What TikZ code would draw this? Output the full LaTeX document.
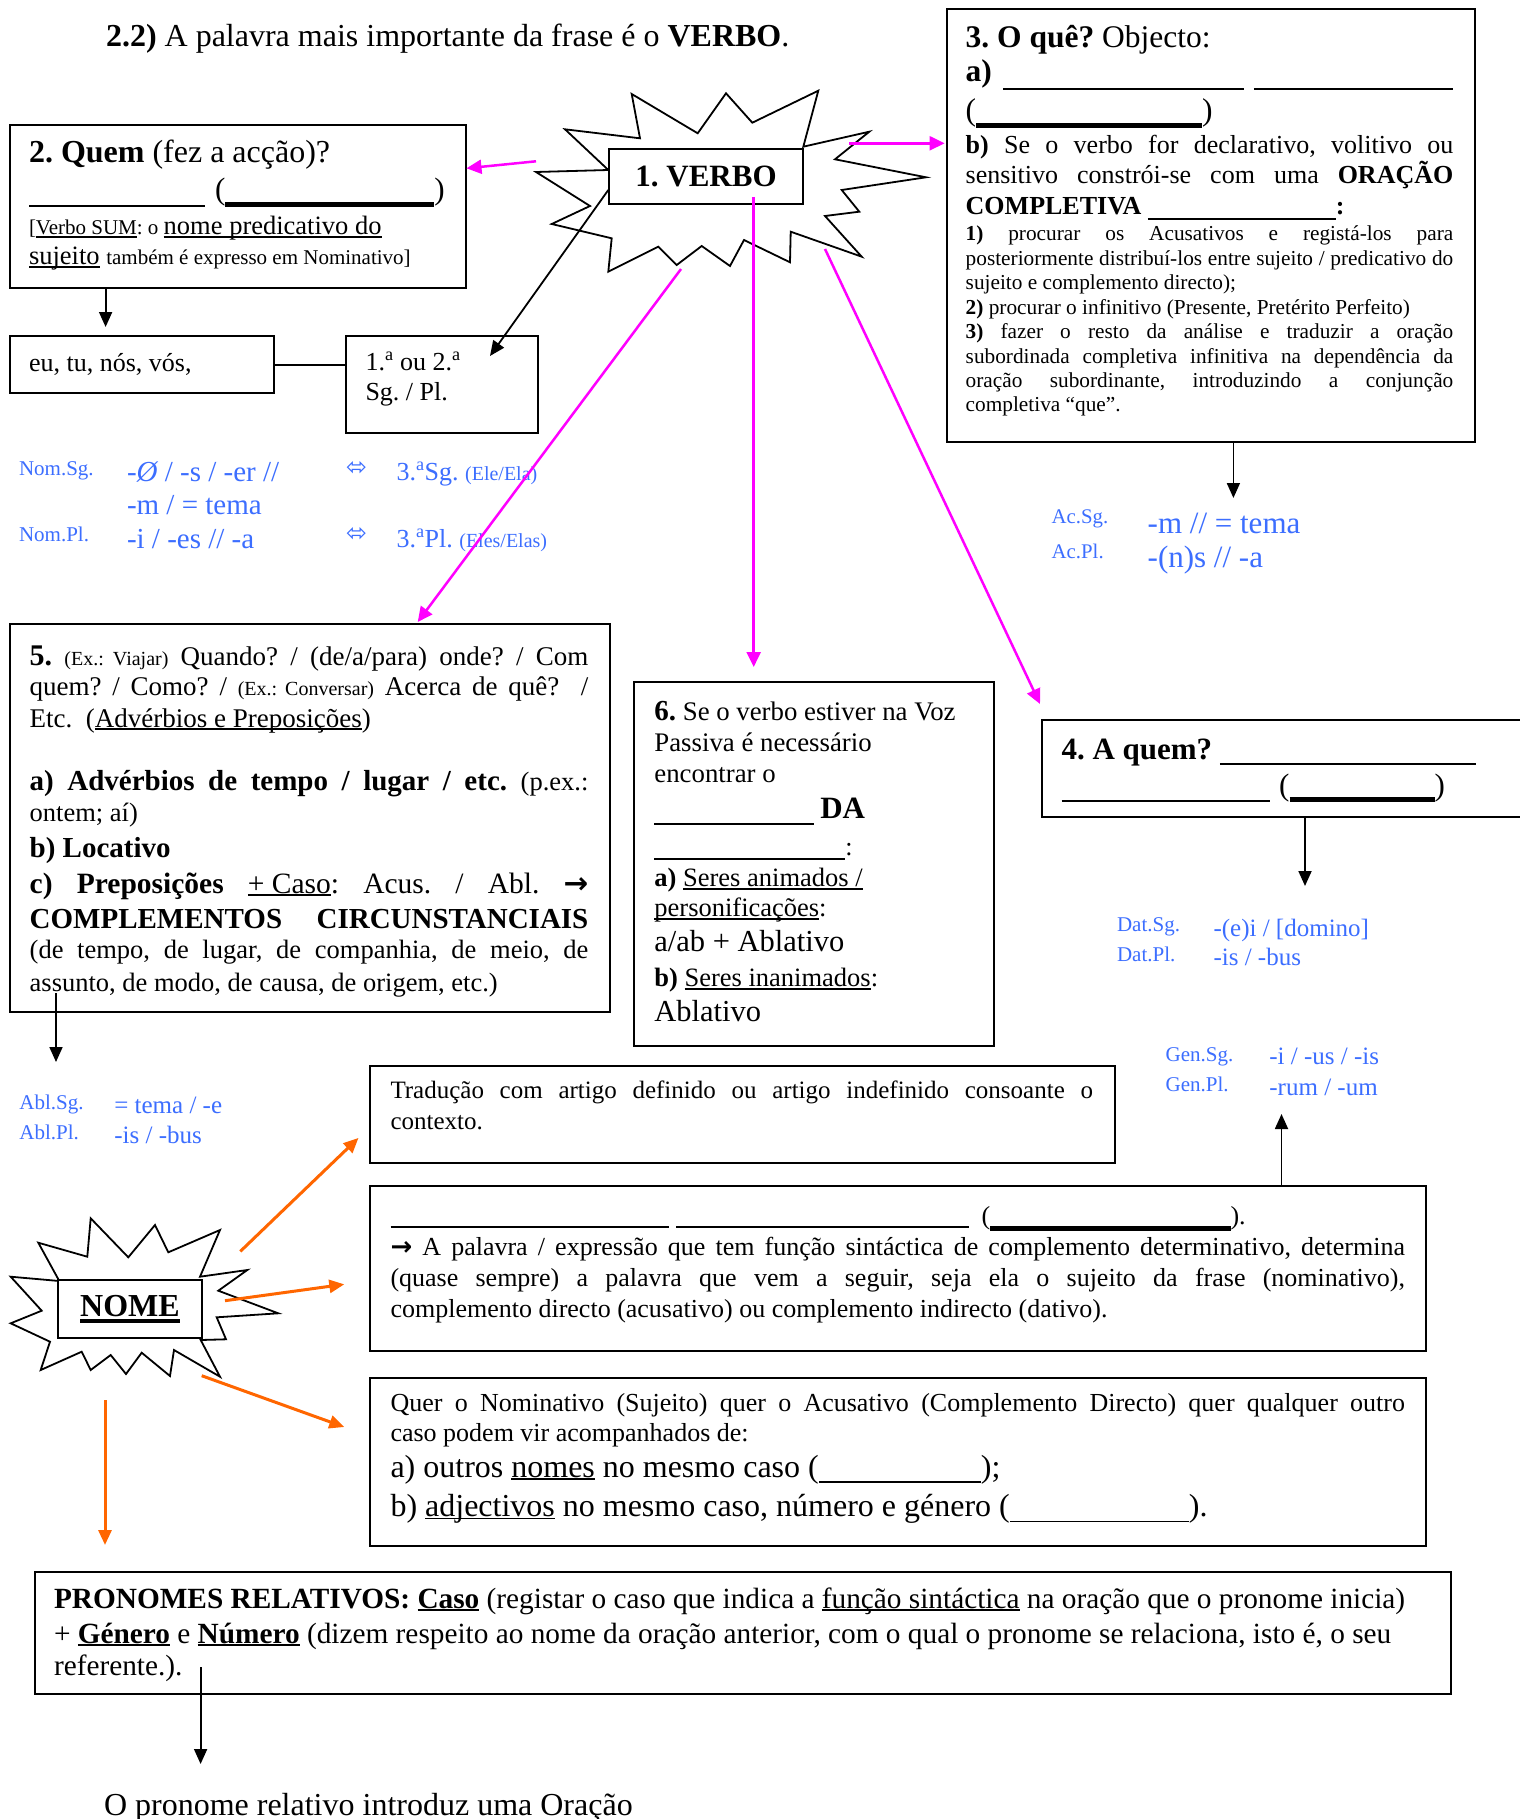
\documentclass[tikz,border=0pt]{standalone}
\usepackage{fontspec}
\setmainfont{Liberation Serif}
\newfontfamily\djv{DejaVu Sans}
\usetikzlibrary{arrows.meta}
\definecolor{mag}{RGB}{255,0,255}
\definecolor{org}{RGB}{255,102,0}
\definecolor{blu}{RGB}{60,110,255}
\newlength{\ULd}\setlength{\ULd}{3pt}
\newcommand{\ULt}{1.8pt}
\newsavebox{\ulbox}
\newcommand{\uline}[1]{\sbox{\ulbox}{#1}\rlap{\rule[-\ULd]{\wd\ulbox}{\ULt}}\usebox{\ulbox}}
\newcommand{\fs}[1]{\fontsize{#1pt}{#1pt}\selectfont}
\newcommand{\bln}[2][-5]{\rule[#1pt]{#2pt}{1.8pt}}
\newcommand{\blk}[2][-7]{\rule[#1pt]{#2pt}{5pt}}
\newcommand{\tjust}[5]{\node[txt] (#1) at (#2,#3) {\hbox to #4pt{#5}};}
\newcommand{\tleft}[4]{\node[txt] (#1) at (#2,#3) {#4};}
\tikzset{
  box/.style={draw, line width=2pt, fill=white, inner sep=0pt, anchor=north west},
  txt/.style={anchor=base west, inner sep=0pt, outer sep=0pt},
  star/.style={draw, line width=1.8pt, fill=white, line join=miter},
  arr/.style={line width=1.8pt, -{Triangle[length=15pt,width=13pt]}},
  marr/.style={draw=mag, line width=2.5pt, -{Triangle[length=15pt,width=14pt]}},
  oarr/.style={draw=org, line width=3pt, -{Triangle[length=15pt,width=13pt]}},
  plain/.style={line width=1.8pt}
}
\frenchspacing
\begin{document}
\begin{tikzpicture}[x=1pt,y=-1pt]
\useasboundingbox (0,0) rectangle (1519,1819);
\fill[white] (0,0) rectangle (1519,1819);

% ---------- title
\tleft{title}{106}{47}{\fs{32}{\bfseries 2.2)} A palavra mais importante da frase é o {\bfseries VERBO}.}

% ---------- VERBO starburst
\draw[star] (631.7,94) -- (640,138.3) -- (565,129.3) -- (608.3,170) -- (536,172) -- (590,206) -- (551.7,224) -- (611.7,238.3) -- (608.3,271.7) -- (658.3,246.7) -- (676.7,265) -- (701.7,246) -- (730,266) -- (744,240) -- (790,262.3) -- (790.7,231.7) -- (861.7,256.7) -- (825,216) -- (859.3,211.7) -- (841.7,190) -- (926,177.3) -- (835,159.3) -- (869.3,131.7) -- (803.3,146.7) -- (818.3,90.7) -- (752.3,122.7) -- (726,93.3) -- (697.7,133.3) -- cycle;
\node[box, minimum width=193.4pt, minimum height=55pt] (verbo) at (608.3,148.3) {\fs{31}\bfseries 1. VERBO};

% ---------- boxes
\node[box, minimum width=456pt, minimum height=162.4pt] (quem) at (9.3,124.2) {};
\node[box, minimum width=263.4pt, minimum height=57pt] (eu) at (9.3,335.4) {};
\node[box, minimum width=192.7pt, minimum height=96.3pt] (ord) at (344.6,335.4) {};
\node[box, minimum width=528pt, minimum height=433pt] (b3) at (945.7,8.1) {};
\node[box, minimum width=600pt, minimum height=388pt] (b5) at (9.3,622.7) {};
\node[box, minimum width=360pt, minimum height=364pt] (b6) at (633.3,680.7) {};
\node[box, minimum width=480pt, minimum height=96.7pt] (b4) at (1041.4,719) {};
\node[box, minimum width=744.5pt, minimum height=96.3pt] (trad) at (369,1065.3) {};
\node[box, minimum width=1056pt, minimum height=164.7pt] (mid) at (369,1184.8) {};
\node[box, minimum width=1056pt, minimum height=167.5pt] (quer) at (369,1377) {};
\node[box, minimum width=1416pt, minimum height=122.3pt] (pron) at (33.8,1570.5) {};

% ---------- Quem box text
\tleft{q1}{29}{163}{\fs{32}{\bfseries 2. Quem} (fez a acção)?}
\tleft{q2}{29}{200}{\fs{31}\bln[-7]{176}\hspace{10pt}(\blk[-7]{209})}
\tleft{q3}{29}{235}{\fs{21}[\uline{Verbo SUM}: o \fs{26.5}\uline{nome predicativo do}}
\tleft{q4}{29}{265}{\fs{26.5}\uline{sujeito} \fs{21}também é expresso em Nominativo]}

% ---------- eu / ordinal
\tleft{e1}{29}{371}{\fs{26}eu, tu, nós, vós,}
\tleft{o1}{365.5}{370}{\fs{26}1.\textsuperscript{a} ou 2.\textsuperscript{a}}
\tleft{o2}{365.5}{400}{\fs{26}Sg. / Pl.}

% ---------- Box 3
\tleft{c1}{965.7}{48}{\fs{31.5}{\bfseries 3. O quê?} Objecto:}
\tjust{c2}{965.7}{82}{487.6}{\fs{31.5}\bfseries a)\hfill\bln[-8]{240.4}\hspace{10.1pt}\bln[-8]{199.5}}
\tleft{c3}{965.7}{121}{\fs{31.5}(\blk[-7]{226})}
\tjust{c4}{965.7}{154}{487.6}{\fs{26}{\bfseries b)} Se o verbo for declarativo, volitivo ou}
\tjust{c5}{965.7}{184}{487.6}{\fs{26}sensitivo constrói-se com uma {\bfseries ORAÇÃO}}
\tleft{c6}{965.7}{215}{\fs{26}\bfseries COMPLETIVA \bln[-5]{188}:}
\tjust{c7}{965.7}{241}{487.6}{\fs{21.3}{\bfseries 1)} procurar os Acusativos e registá-los para}
\tjust{c8}{965.7}{265.4}{487.6}{\fs{21.3}posteriormente distribuí-los entre sujeito / predicativo do}
\tleft{c9}{965.7}{289.8}{\fs{21.3}sujeito e complemento directo);}
\tleft{c10}{965.7}{314.2}{\fs{21.3}{\bfseries 2)} procurar o infinitivo (Presente, Pretérito Perfeito)}
\tjust{c11}{965.7}{338.6}{487.6}{\fs{21.3}{\bfseries 3)} fazer o resto da análise e traduzir a oração}
\tjust{c12}{965.7}{363}{487.6}{\fs{21.3}subordinada completiva infinitiva na dependência da}
\tjust{c13}{965.7}{387.4}{487.6}{\fs{21.3}oração subordinante, introduzindo a conjunção}
\tleft{c14}{965.7}{411.8}{\fs{21.3}completiva “que”.}

% ---------- Nom block
\tleft{n1}{19}{475}{\color{blu}\fs{21}Nom.Sg.}
\tleft{n2}{127}{481}{\color{blu}\fs{29}-{\itshape Ø} / -s / -er //}
\tleft{n3}{127}{514}{\color{blu}\fs{29}-m / = tema}
\tleft{n4}{19}{541}{\color{blu}\fs{21}Nom.Pl.}
\tleft{n5}{127}{548}{\color{blu}\fs{29}-i / -es // -a}
\tleft{n6}{346}{475}{\color{blu}\djv\fs{25}⬄}
\tleft{n7}{346}{541}{\color{blu}\djv\fs{25}⬄}
\tleft{n8}{396.6}{480}{\color{blu}\fs{26}3.\textsuperscript{a}Sg. \fs{20}(Ele/Ela)}
\tleft{n9}{396.6}{547}{\color{blu}\fs{26}3.\textsuperscript{a}Pl. \fs{20}(Eles/Elas)}
% Ac
\tleft{a1}{1051.7}{523}{\color{blu}\fs{20.8}Ac.Sg.}
\tleft{a2}{1147.7}{533}{\color{blu}\fs{31}-m // = tema}
\tleft{a3}{1051.7}{558}{\color{blu}\fs{20.8}Ac.Pl.}
\tleft{a4}{1147.7}{567}{\color{blu}\fs{31}-(n)s // -a}
% Dat
\tleft{d1}{1117}{931.7}{\color{blu}\fs{21}Dat.Sg.}
\tleft{d2}{1213.5}{936.7}{\color{blu}\fs{25}-(e)i / [domino]}
\tleft{d3}{1117}{961.7}{\color{blu}\fs{21}Dat.Pl.}
\tleft{d4}{1213.5}{965}{\color{blu}\fs{25}-is / -bus}
% Gen
\tleft{g1}{1165.7}{1061}{\color{blu}\fs{21}Gen.Sg.}
\tleft{g2}{1269.4}{1064.6}{\color{blu}\fs{25}-i / -us / -is}
\tleft{g3}{1165.7}{1091.4}{\color{blu}\fs{21}Gen.Pl.}
\tleft{g4}{1269.4}{1095.7}{\color{blu}\fs{25}-rum / -um}
% Abl
\tleft{ab1}{19.4}{1109}{\color{blu}\fs{21}Abl.Sg.}
\tleft{ab2}{114.3}{1113.6}{\color{blu}\fs{25}= tema / -e}
\tleft{ab3}{19.4}{1139.6}{\color{blu}\fs{21}Abl.Pl.}
\tleft{ab4}{114.3}{1143}{\color{blu}\fs{25}-is / -bus}

% ---------- Box 5
\tjust{f1}{29.7}{665}{558.7}{\fs{27}{\fs{30}\bfseries 5.} {\fs{20}(Ex.: Viajar)} Quando? / (de/a/para) onde? / Com}
\tjust{f2}{29.7}{695}{558.7}{\fs{27}quem? / Como? / {\fs{20}(Ex.: Conversar)} Acerca de quê?\ \ /}
\tleft{f3}{29.7}{727}{\fs{27}Etc.\ \ (\uline{Advérbios e Preposições})}
\tjust{f5}{29.7}{790}{558.7}{\fs{29}{\bfseries a) Advérbios de tempo / lugar / etc.} \fs{26.5}(p.ex.:}
\tleft{f6}{29.7}{821}{\fs{26.5}ontem; aí)}
\tleft{f7}{29.7}{857}{\fs{29}\bfseries b) Locativo}
\tjust{f8}{29.7}{893}{558.7}{\fs{29.5}{\bfseries c) Preposições} \uline{+ Caso}: Acus. / Abl. {\djv\bfseries →}}
\tjust{f9}{29.7}{928}{558.7}{\fs{29}\bfseries COMPLEMENTOS CIRCUNSTANCIAIS}
\tjust{f10}{29.7}{958}{558.7}{\fs{26.5}(de tempo, de lugar, de companhia, de meio, de}
\tleft{f11}{29.7}{991}{\fs{26.5}assunto, de modo, de causa, de origem, etc.)}

% ---------- Box 6
\tleft{s1}{654.4}{720.7}{\fs{26.8}{\fs{29}\bfseries 6.} Se o verbo estiver na Voz}
\tleft{s2}{654.4}{751.7}{\fs{26.8}Passiva é necessário}
\tleft{s3}{654.4}{782.7}{\fs{26.8}encontrar o}
\tleft{s4}{654.4}{818.3}{\fs{26}\bln[-6.7]{159.4} {\fs{31}\bfseries DA}}
\tleft{s5}{654.4}{855}{\fs{26}\bln[-5]{191}:}
\tleft{s6}{654.4}{886.7}{\fs{26.5}{\bfseries a)} \uline{Seres animados /}}
\tleft{s7}{654.4}{916.7}{\fs{26.5}\uline{personificações}:}
\tleft{s8}{654.4}{951.7}{\fs{30.5}a/ab + Ablativo}
\tleft{s9}{654.4}{986.7}{\fs{26.5}{\bfseries b)} \uline{Seres inanimados}:}
\tleft{s10}{654.4}{1021.7}{\fs{30.5}Ablativo}

% ---------- Box 4
\tleft{h1}{1061.5}{759}{\fs{31}{\bfseries 4. A quem?} \bln[-6]{256}}
\tleft{h2}{1061.5}{795}{\fs{31}\bln[-6.7]{208}\hspace{9.7pt}(\blk[-7]{145})}

% ---------- Traducao
\tjust{t1}{390.5}{1098}{702.5}{\fs{25}Tradução com artigo definido ou artigo indefinido consoante o}
\tleft{t2}{390.5}{1129}{\fs{25}contexto.}

% ---------- middle box
\tleft{m1}{390.5}{1224}{\fs{26}\bln[-4]{278.1}\hspace{7.8pt}\bln[-4]{292.6}\hspace{12.6pt}(\blk[-6.7]{240.3}).}
\tjust{m2}{390.5}{1255.7}{1014.5}{\fs{26}{\djv\bfseries\fs{26}→} A palavra / expressão que tem função sintáctica de complemento determinativo, determina}
\tjust{m3}{390.5}{1286}{1014.5}{\fs{26}(quase sempre) a palavra que vem a seguir, seja ela o sujeito da frase (nominativo),}
\tleft{m4}{390.5}{1317}{\fs{26}complemento directo (acusativo) ou complemento indirecto (dativo).}

% ---------- Quer box
\tjust{r1}{390.5}{1411}{1014.5}{\fs{26}Quer o Nominativo (Sujeito) quer o Acusativo (Complemento Directo) quer qualquer outro}
\tleft{r2}{390.5}{1441.4}{\fs{26}caso podem vir acompanhados de:}
\tleft{r3}{390.5}{1477}{\fs{32}a) outros \uline{nomes} no mesmo caso (\bln[-6]{162});}
\tleft{r4}{390.5}{1516.4}{\fs{32}b) \uline{adjectivos} no mesmo caso, número e género (\bln[-6]{179}).}

% ---------- Pronomes
\tleft{p1}{54}{1608}{\fs{29.3}{\bfseries PRONOMES RELATIVOS: \uline{Caso}} (registar o caso que indica a \uline{função sintáctica} na oração que o pronome inicia)}
\tleft{p2}{54}{1643}{\fs{29.3}+ {\bfseries\uline{Género}} e {\bfseries\uline{Número}} (dizem respeito ao nome da oração anterior, com o qual o pronome se relaciona, isto é, o seu}
\tleft{p3}{54}{1675}{\fs{29.3}referente.).}
\tleft{fin}{104}{1815}{\fs{32}O pronome relativo introduz uma Oração}

% ---------- NOME starburst
\draw[star] (90.7,1218.3) -- (128.3,1257.3) -- (155,1225) -- (168.3,1252.3) -- (220,1230) -- (200,1276.7) -- (247.3,1270) -- (218.3,1290.7) -- (278.3,1313.3) -- (216.7,1317.3) -- (226,1339.3) -- (200.7,1340) -- (220,1376.7) -- (174,1350) -- (170,1376) -- (141.7,1352.7) -- (126,1374) -- (110.7,1355) -- (90.7,1370) -- (81.7,1351.7) -- (40.7,1370) -- (50,1341.7) -- (10.7,1323.3) -- (41.7,1310.7) -- (10.7,1276.7) -- (59.3,1281) -- (38.3,1242.7) -- (87.3,1256.7) -- cycle;
\node[box, minimum width=143.4pt, minimum height=58pt] (nome) at (57.3,1279.3) {\fs{32}\bfseries\renewcommand{\ULt}{4pt}\setlength{\ULd}{6pt}\uline{NOME}};

% ---------- coordinates for connector ends
\coordinate (qs) at (105.6,287.2);   \coordinate (qe) at (105.6,327);
\coordinate (vb1) at (608.3,190);    \coordinate (ordtip) at (490,356);
\coordinate (mq1) at (536,161.3);    \coordinate (mq2) at (466.5,168.3);
\coordinate (m31) at (849.3,143.3);  \coordinate (m32) at (944.6,143.3);
\coordinate (m51) at (681,269);      \coordinate (m52) at (417.7,622);
\coordinate (m61) at (753.7,197);    \coordinate (m62) at (753.7,667);
\coordinate (m41) at (825,249);      \coordinate (m42) at (1040,704);
\coordinate (ac1) at (1233.4,442);   \coordinate (ac2) at (1233.4,498);
\coordinate (dt1) at (1305,816);     \coordinate (dt2) at (1305,886);
\coordinate (ab1c) at (56,993);      \coordinate (ab2c) at (56,1062);
\coordinate (gn1) at (1281.5,1185);  \coordinate (gn2) at (1281.5,1114);
\coordinate (o11) at (240.3,1251.4); \coordinate (o12) at (358.5,1137.9);
\coordinate (o21) at (225,1300.7);   \coordinate (o22) at (344.3,1284.3);
\coordinate (o31) at (201.7,1375.7); \coordinate (o32) at (344.3,1427);
\coordinate (o41) at (105,1400);     \coordinate (o42) at (105,1545);
\coordinate (pr1) at (200.6,1667);   \coordinate (pr2) at (200.6,1764);

% ---------- connectors
\draw[arr] (qs) -- (qe);
\draw[plain] (eu.east) -- (eu.east -| ord.west);
\draw[arr] (vb1) -- (ordtip);
\draw[arr] (ac1) -- (ac2);
\draw[arr] (dt1) -- (dt2);
\draw[arr] (ab1c) -- (ab2c);
\draw[arr] (gn1) -- (gn2);
\draw[arr] (pr1) -- (pr2);
\draw[marr] (mq1) -- (mq2);
\draw[marr] (m31) -- (m32);
\draw[marr] (m51) -- (m52);
\draw[marr] (m61) -- (m62);
\draw[marr] (m41) -- (m42);
\draw[oarr] (o11) -- (o12);
\draw[oarr] (o21) -- (o22);
\draw[oarr] (o31) -- (o32);
\draw[oarr] (o41) -- (o42);
\end{tikzpicture}
\end{document}
